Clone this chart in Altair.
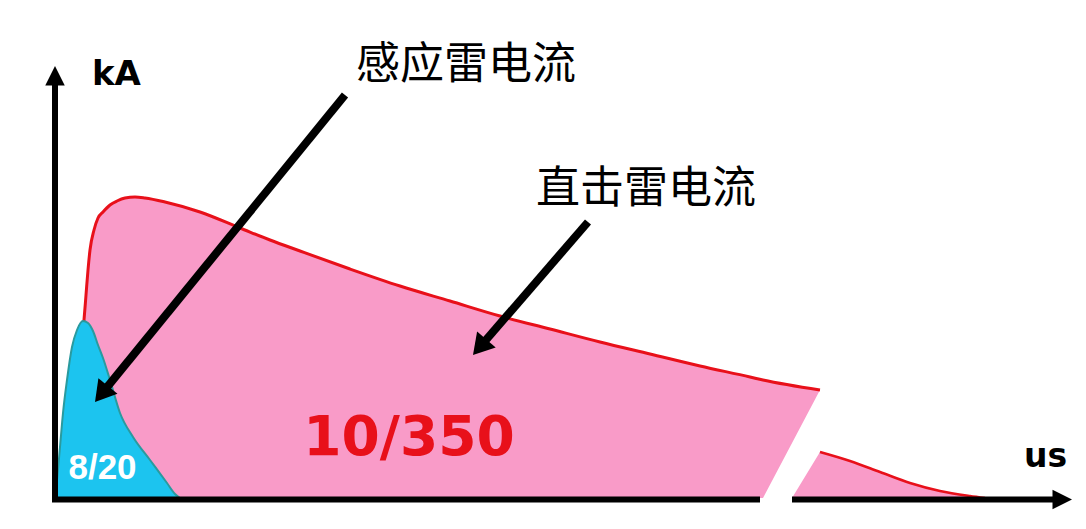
import math
import altair as alt
import pandas as pd

# ---- data (time in arbitrary "us" units, current in arbitrary "kA" units) ----
# direct-strike current 10/350, first part (before the axis break)
d1_t   = [7, 20, 27, 29, 31, 33, 35, 39, 43, 48, 55, 62, 70, 80, 90, 110, 145, 185, 215, 245,
          295, 345, 395, 445, 495, 545, 595, 645, 695, 708, 765]
d1_top = [1, 98, 158, 178, 203, 228, 248, 268, 280, 286, 293, 297, 300, 301, 300, 296, 286, 270, 258, 247,
          229, 212, 197, 182, 169, 156, 144, 132, 121, 118, 108]
d1_bot = [0] * 30 + [108]
# direct-strike current, tail after the axis break
d2_t   = [737, 765, 795, 825, 855, 885, 915, 930]
d2_top = [0, 46, 37, 26, 15, 7, 2, 0]
# induced current 8/20
i_t = [0, 2, 5, 8, 12, 17, 22, 28, 33, 38, 43, 48, 55, 65, 78, 95, 112, 120, 125]
i_v = [0, 18, 51, 85, 118, 151, 168, 177, 175, 167, 153, 140, 118, 85, 61, 38, 15, 4, 0]

# axis lines (x, x2, y, y2) and arrow tips
ax_x  = [0, -3, 737]
ax_x2 = [0, 705, 1000]
ax_y  = [-4, -1.5, -1.5]
ax_y2 = [418, -1.5, -1.5]
axtip_x = [0, 1017]
axtip_y = [432, -1.5]
axtip_a = [0, 90]

# annotation arrows: start and tip
arr_sx = [290, 533]
arr_sy = [403, 276]
arr_tx = [40, 418]
arr_ty = [96, 143]

# labels
lab_kA = ("kA", 37, 413)
lab_us = ("us", 969, 31)
lab_cn = [("感应雷电流", 411, 419), ("直击雷电流", 591, 295)]
lab_big = ("10/350", 354, 43)
lab_small = ("8/20", 47.5, 19)

# ---- build tables ----
pink1 = pd.DataFrame({"t": d1_t, "top": d1_top, "bot": d1_bot})
pink2 = pd.DataFrame({"t": d2_t, "top": d2_top, "bot": [0] * len(d2_t)})
red1 = pink1
red2 = pink2.iloc[1:]
cyan = pd.DataFrame({"t": i_t, "v": i_v})
axes = pd.DataFrame({"x": ax_x, "x2": ax_x2, "y": ax_y, "y2": ax_y2})
axtips = pd.DataFrame({"x": axtip_x, "y": axtip_y, "a": axtip_a})

shaft_rows, head_rows = [], []
for sx, sy, tx, ty in zip(arr_sx, arr_sy, arr_tx, arr_ty):
    dx, dy = tx - sx, ty - sy
    L = math.hypot(dx, dy)
    back = 14
    ex, ey = tx - dx / L * back, ty - dy / L * back
    shaft_rows.append({"x": sx, "y": sy, "x2": ex, "y2": ey})
    ang = (math.degrees(math.atan2(dx, dy)) + 360) % 360
    head_rows.append({"x": tx, "y": ty, "a": ang})
shafts = pd.DataFrame(shaft_rows)
heads = pd.DataFrame(head_rows)

xs = alt.Scale(domain=[-47, 1023], nice=False, zero=False)
ys = alt.Scale(domain=[-23, 490], nice=False, zero=False)

PINK = "#f99bc8"
RED = "#e8101a"
CYAN = "#1cc4ef"
TEAL = "#2a9a9e"


def X(f):
    return alt.X(f, type="quantitative", scale=xs, axis=None)


def Y(f):
    return alt.Y(f, type="quantitative", scale=ys, axis=None)


area1 = alt.Chart(pink1).mark_area(color=PINK, opacity=1, interpolate="linear").encode(
    x=X("t"), y=Y("top"), y2="bot")
area2 = alt.Chart(pink2).mark_area(color=PINK, opacity=1, interpolate="linear").encode(
    x=X("t"), y=Y("top"), y2="bot")
line1 = alt.Chart(red1).mark_line(color=RED, strokeWidth=3, interpolate="monotone").encode(
    x=X("t"), y=Y("top"))
line2 = alt.Chart(red2).mark_line(color=RED, strokeWidth=2.5, interpolate="monotone").encode(
    x=X("t"), y=Y("top"))
cyan_area = alt.Chart(cyan).mark_area(color=CYAN, opacity=1, interpolate="monotone").encode(
    x=X("t"), y=Y("v"))
cyan_line = alt.Chart(cyan).mark_line(color=TEAL, strokeWidth=2, interpolate="monotone").encode(
    x=X("t"), y=Y("v"))

axis_rules = alt.Chart(axes).mark_rule(color="black", strokeWidth=6, strokeCap="butt").encode(
    x=X("x"), x2="x2", y=Y("y"), y2="y2")
axis_heads = alt.Chart(axtips).mark_point(
    shape="M0,0L-1,2L1,2Z", filled=True, color="black", size=380, opacity=1, strokeWidth=0
).encode(x=X("x"), y=Y("y"), angle=alt.Angle("a:Q", scale=None))

arrow_shafts = alt.Chart(shafts).mark_rule(color="black", strokeWidth=8, strokeCap="butt").encode(
    x=X("x"), x2="x2", y=Y("y"), y2="y2")
arrow_heads = alt.Chart(heads).mark_point(
    shape="M0,0L-1.2,2L1.2,2Z", filled=True, color="black", size=420, opacity=1, strokeWidth=0
).encode(x=X("x"), y=Y("y"), angle=alt.Angle("a:Q", scale=None))


def text_layer(rows, **kw):
    df = pd.DataFrame(rows, columns=["label", "x", "y"])
    return alt.Chart(df).mark_text(baseline="alphabetic", **kw).encode(
        x=X("x"), y=Y("y"), text="label:N")


t_kA = text_layer([lab_kA], align="left", font="DejaVu Sans", fontWeight="bold", fontSize=34, color="black")
t_us = text_layer([lab_us], align="left", font="DejaVu Sans", fontWeight="bold", fontSize=33, color="black")
t_cn = text_layer(lab_cn, align="center", font="Noto Sans CJK SC", fontSize=44, color="black")
t_big = text_layer([lab_big], align="center", font="DejaVu Sans", fontWeight="bold", fontSize=55, color=RED)
t_small = text_layer([lab_small], align="center", font="Liberation Sans", fontWeight="bold", fontSize=35, color="white")

chart = alt.layer(
    area1, area2, line1, line2, cyan_area, cyan_line,
    axis_rules, axis_heads, arrow_shafts, arrow_heads,
    t_kA, t_us, t_cn, t_big, t_small,
).properties(width=1070, height=513, padding=0, background="white").configure_view(stroke=None)

chart.save("out.html", embed_options={"renderer": "svg", "actions": False})
